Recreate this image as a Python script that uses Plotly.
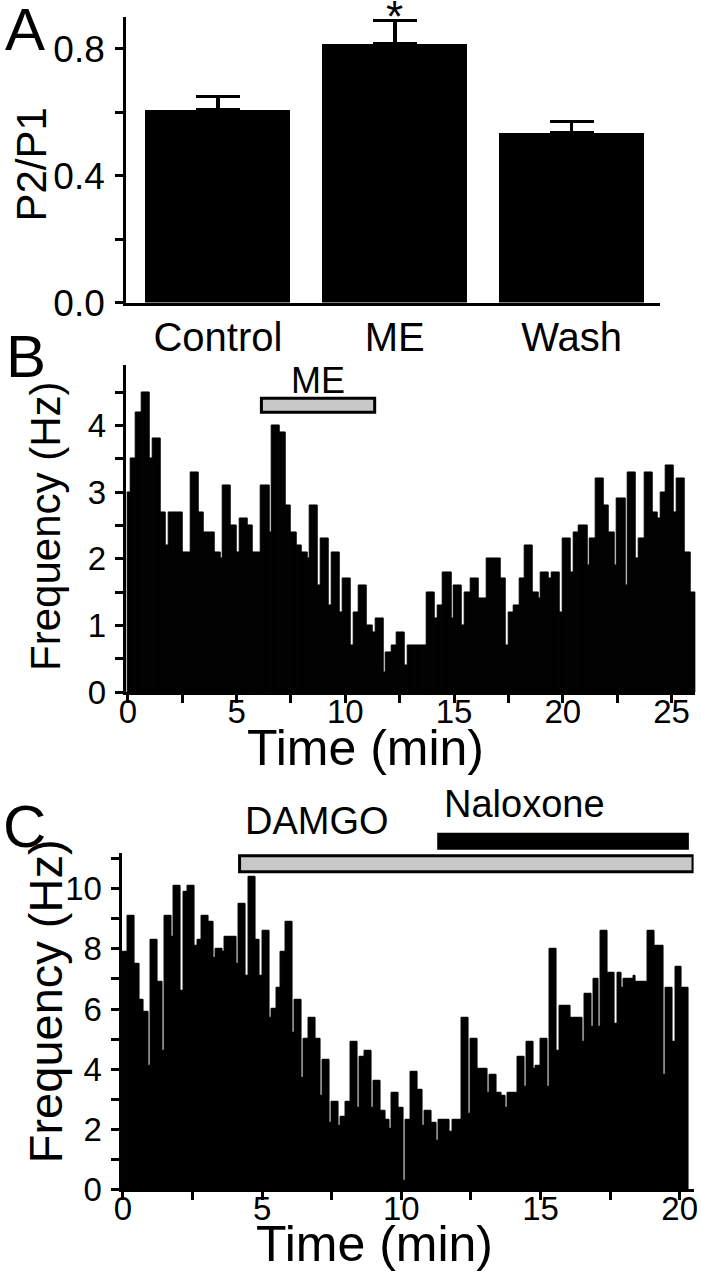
import plotly.graph_objects as go

W, H = 701, 1280
# the page photo comes out slightly squeezed and shifted; undo it
XS, XB = 0.9886, 6.1
YS = 0.985

# Panel A: paired-pulse ratio
conditions = ["Control", "ME", "Wash"]
ratio_mean = [0.608, 0.816, 0.534]
ratio_sem = [0.042, 0.073, 0.037]

# Panel B: event frequency, 7.5 s bins (min)
b_bin = 0.125
b_freq = [
    3.0, 3.5, 3.5, 4.2, 4.2, 4.5, 4.5, 4.5, 3.5, 3.8,
    3.8, 3.8, 2.7, 2.7, 2.2, 2.7, 2.7, 2.7, 2.7, 2.7,
    2.1, 2.1, 2.1, 3.3, 3.3, 3.3, 2.7, 2.7, 2.4, 2.4,
    2.4, 2.4, 2.1, 2.1, 2.0, 3.1, 3.1, 3.1, 2.5, 2.5,
    2.1, 2.6, 2.6, 2.6, 2.5, 2.5, 2.1, 2.1, 2.1, 3.1,
    3.1, 3.1, 2.4, 4.0, 4.0, 4.0, 3.9, 3.9, 2.8, 2.8,
    2.4, 2.4, 2.2, 2.2, 2.1, 2.1, 2.0, 2.8, 2.8, 2.8,
    1.6, 2.3, 2.3, 2.3, 1.3, 2.1, 2.1, 2.1, 1.2, 1.7,
    1.7, 1.7, 0.7, 1.2, 1.2, 1.6, 1.6, 1.6, 1.0, 1.0,
    0.9, 1.1, 1.1, 1.1, 0.3, 0.6, 0.6, 0.7, 0.7, 0.9,
    0.9, 0.9, 0.4, 0.7, 0.7, 0.7, 0.7, 0.7, 0.7, 0.7,
    1.5, 1.5, 1.5, 1.1, 1.3, 1.3, 1.8, 1.8, 1.8, 1.1,
    1.6, 1.6, 1.6, 1.0, 1.5, 1.5, 1.7, 1.7, 1.7, 1.4,
    1.4, 1.4, 2.0, 2.0, 2.0, 2.0, 2.0, 1.7, 1.7, 0.7,
    1.2, 1.2, 1.3, 1.3, 1.7, 1.7, 2.2, 2.2, 2.2, 1.5,
    1.5, 1.4, 1.8, 1.8, 1.8, 1.7, 1.8, 1.8, 1.8, 1.2,
    2.3, 2.3, 2.3, 1.8, 2.4, 2.4, 2.5, 2.5, 2.5, 1.9,
    2.3, 2.3, 3.2, 3.2, 3.2, 2.8, 2.8, 2.4, 2.4, 1.9,
    2.9, 2.9, 2.9, 1.6, 3.3, 3.3, 3.3, 2.0, 2.3, 2.3,
    3.3, 3.3, 3.3, 2.7, 2.7, 2.6, 3.0, 3.0, 3.4, 3.4,
    3.4, 2.7, 3.2, 3.2, 3.2, 2.1, 2.1, 1.5, 1.5,
]
me_on, me_off = 6.14, 11.35

# Panel C: event frequency, 5 s bins (min)
c_bin = 5 / 60
c_freq = [
    7.9, 7.9, 9.1, 9.1, 9.1, 7.5, 7.5, 6.3, 6.3, 5.9,
    5.9, 4.1, 8.3, 8.3, 8.3, 6.9, 6.9, 4.6, 9.1, 9.1,
    9.1, 8.4, 10.1, 10.1, 10.1, 6.6, 9.9, 9.9, 10.1, 10.1,
    10.1, 8.1, 8.3, 8.3, 9.1, 9.1, 9.1, 8.9, 8.9, 7.7,
    8.0, 8.0, 8.0, 7.9, 8.4, 8.4, 8.4, 8.4, 8.4, 7.5,
    9.5, 9.5, 9.5, 7.1, 10.4, 10.4, 10.4, 8.3, 8.3, 7.1,
    8.6, 8.6, 8.6, 5.7, 6.0, 6.0, 6.7, 6.7, 7.9, 7.9,
    8.9, 8.9, 8.9, 5.2, 6.3, 6.3, 6.3, 3.7, 5.0, 5.0,
    5.7, 5.7, 5.7, 5.0, 5.0, 3.1, 4.3, 4.3, 4.3, 2.2,
    2.9, 2.9, 2.9, 2.1, 2.4, 2.4, 2.9, 2.9, 4.9, 4.9,
    4.9, 2.7, 4.4, 4.4, 4.6, 4.6, 4.6, 2.7, 3.6, 3.6,
    3.6, 2.6, 2.6, 2.3, 2.3, 2.0, 3.2, 3.2, 3.2, 2.7,
    2.7, 0.3, 2.3, 2.3, 3.9, 3.9, 3.9, 3.3, 3.3, 2.1,
    2.6, 2.6, 2.6, 2.2, 2.2, 1.6, 2.3, 2.3, 2.3, 2.3,
    2.3, 1.9, 2.3, 2.3, 2.3, 2.3, 5.7, 5.7, 5.7, 2.5,
    5.0, 5.0, 5.0, 4.0, 4.0, 4.0, 4.0, 3.2, 3.8, 3.8,
    3.8, 3.2, 3.2, 3.1, 3.1, 2.7, 3.2, 3.2, 3.2, 3.2,
    4.4, 4.4, 4.4, 3.4, 4.9, 4.9, 4.9, 4.0, 4.1, 4.1,
    5.0, 5.0, 5.0, 3.4, 8.0, 8.0, 8.0, 4.6, 6.1, 6.1,
    6.1, 6.1, 6.1, 5.7, 5.7, 5.7, 5.7, 5.7, 4.9, 6.5,
    6.5, 6.5, 5.4, 7.0, 7.0, 5.4, 8.6, 8.6, 8.6, 7.2,
    7.2, 7.2, 5.5, 7.2, 7.2, 6.7, 7.0, 7.0, 7.0, 7.0,
    7.1, 6.9, 6.9, 6.9, 6.9, 6.9, 8.6, 8.6, 8.6, 8.1,
    8.1, 8.1, 8.1, 3.8, 6.7, 6.7, 6.7, 4.9, 7.4, 7.4,
    7.4, 6.7, 6.7, 6.7,
]
damgo_on, damgo_off = 4.19, 20.48
nalox_on, nalox_off = 11.29, 20.33

FONT = "Liberation Sans, Arial, sans-serif"


def px(x):
    return (x - XB) / XS / W


def py(y):
    return 1 - y / YS / H


def axis_style(**kw):
    d = dict(showline=True, linewidth=3, linecolor="black", showgrid=False,
             zeroline=False, ticks="outside", ticklen=8, tickwidth=3,
             tickcolor="black", tickfont=dict(family=FONT, size=33, color="black"),
             ticklabelstandoff=2, ticklabeloverflow="allow", fixedrange=True)
    d.update(kw)
    return d


def minor(step):
    return dict(dtick=step, ticks="outside", ticklen=8, tickwidth=3,
                tickcolor="black", showgrid=False)


fig = go.Figure()

fig.add_trace(go.Bar(
    x=conditions, y=ratio_mean, width=0.82,
    marker=dict(color="black", line=dict(width=0)),
    error_y=dict(type="data", array=ratio_sem, arrayminus=[0, 0, 0],
                 symmetric=False, color="black", thickness=3.5, width=22),
    xaxis="x", yaxis="y",
))

fig.add_trace(go.Bar(
    x=[(i + 0.5) * b_bin for i in range(len(b_freq))], y=b_freq, width=b_bin,
    marker=dict(color="black", line=dict(width=1, color="black")),
    xaxis="x2", yaxis="y2",
))

fig.add_trace(go.Bar(
    x=[(i + 0.5) * c_bin for i in range(len(c_freq))], y=c_freq, width=c_bin,
    marker=dict(color="black", line=dict(width=1, color="black")),
    xaxis="x3", yaxis="y3",
))

fig.update_layout(
    width=W, height=H, margin=dict(l=0, r=0, t=0, b=0),
    paper_bgcolor="white", plot_bgcolor="white", showlegend=False,
    bargap=0, font=dict(family=FONT, color="black"),
    xaxis=axis_style(domain=[px(125), px(662)], anchor="y", type="category",
                     range=[-0.518, 2.5], ticks="", ticklabelstandoff=-3,
                     tickfont=dict(family=FONT, size=40, color="black")),
    yaxis=axis_style(domain=[py(303), py(17)], anchor="x", range=[0, 0.9],
                     tickvals=[0, 0.4, 0.8], ticktext=["0.0", "0.4", "0.8"],
                     ticklabelstandoff=3, minor=minor(0.2),
                     tickfont=dict(family=FONT, size=37, color="black")),
    xaxis2=axis_style(domain=[px(124.5), px(697.5)], anchor="y2", range=[-0.1, 26.1],
                      dtick=5, tick0=0, minor=minor(2.5), ticklabelstandoff=-20),
    yaxis2=axis_style(domain=[py(693), py(366)], anchor="x2", range=[0, 4.9],
                      dtick=1, tick0=0, minor=minor(0.5)),
    xaxis3=axis_style(domain=[px(120.3), px(695.7)], anchor="y3", range=[-0.05, 20.5],
                      dtick=5, tick0=0, minor=minor(2.5), ticklabelstandoff=-20),
    yaxis3=axis_style(domain=[py(1191), py(854)], anchor="x3", range=[0, 11.2],
                      dtick=2, tick0=0, minor=minor(1)),
)

# drug application bars
fig.add_shape(type="rect", xref="x2", yref="y2", x0=me_on, x1=me_off, y0=4.2, y1=4.41,
              fillcolor="#c8c8c8", line=dict(color="black", width=3))
fig.add_shape(type="rect", xref="x3", yref="paper", x0=damgo_on, x1=damgo_off,
              y0=py(873), y1=py(857), fillcolor="#c8c8c8", line=dict(color="black", width=3))
fig.add_shape(type="rect", xref="x3", yref="paper", x0=nalox_on, x1=nalox_off,
              y0=py(851), y1=py(834), fillcolor="black", line=dict(width=0))


def label(text, x, y, size, angle=0, xref="paper", yref="paper"):
    fig.add_annotation(text=text, x=x, y=y, xref=xref, yref=yref, showarrow=False,
                       textangle=angle, xanchor="center", yanchor="middle",
                       font=dict(family=FONT, size=size, color="black"))


label("A", px(23), py(30), 60)
label("B", px(24), py(357), 60)
label("C", px(23), py(828), 60)
label("P2/P1", px(30), py(165), 42, angle=-90)
label("*", 1, 0.9, 44, xref="x", yref="y")
label("Frequency (Hz)", px(44), py(527), 42, angle=-90)
label("Time (min)", px(366), py(749), 50)
label("ME", (me_on + me_off) / 2, 4.68, 36, xref="x2", yref="y2")
label("Frequency (Hz)", px(44), py(1003), 47, angle=-90)
label("Time (min)", px(375), py(1246), 50)
label("DAMGO", px(317), py(822), 38)
label("Naloxone", px(526), py(805), 38)

fig.write_html("out.html", config={"displayModeBar": False},
               post_script="document.body.style.margin='0';")
